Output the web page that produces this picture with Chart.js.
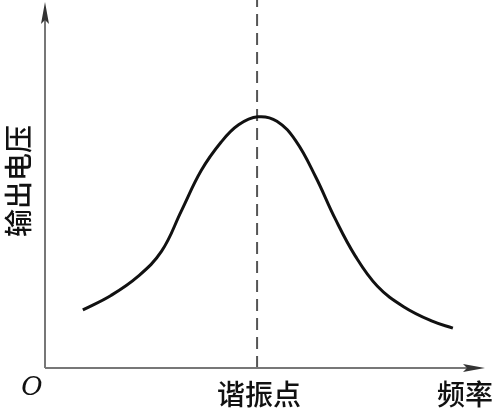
<!DOCTYPE html>
<html>
<head>
<meta charset="utf-8">
<script src="https://cdn.jsdelivr.net/npm/chart.js@4/dist/chart.umd.min.js"></script>
<style>
  html, body { margin: 0; padding: 0; background: #fff; }
  #wrap { width: 493px; height: 410px; }
</style>
</head>
<body>
<div id="wrap"><canvas id="resChart" width="493" height="410"></canvas></div>
<script>
// 频率 (任意单位) / 输出电压 (任意单位)
const freq = [8.6, 15.0, 21.0, 26.5, 31.0, 35.5, 40.0, 44.0, 48.4, 52.7, 57.0, 61.5, 66.0, 70.5, 75.5, 81.5, 88.0, 92.7];
const voltage = [16.0, 20.0, 25.1, 32.2, 43.3, 54.4, 62.2, 67.0, 69.2, 68.0, 62.6, 52.7, 41.0, 30.9, 22.6, 16.9, 12.9, 11.0];
const resonance = 48.2;
const xLabels = ['谐振点', '频率'];
const yLabel = '输出电压';

const xMax = 100;
const yMax = 101.4;

const curve = freq.map((f, i) => ({ x: f, y: voltage[i] }));
const dashLine = [{ x: resonance, y: 0 }, { x: resonance, y: yMax }];

// 坐标轴, 箭头, 文字
const axisPlugin = {
  id: 'axisPlugin',
  afterDraw(chart) {
    const { ctx, chartArea } = chart;
    const xs = chart.scales.x;
    const left = chartArea.left, bottom = chartArea.bottom;
    ctx.save();
    ctx.strokeStyle = '#777';
    ctx.fillStyle = '#333';
    ctx.lineWidth = 2;
    ctx.beginPath();
    ctx.moveTo(left, bottom);
    ctx.lineTo(left, 10);
    ctx.moveTo(left, bottom);
    ctx.lineTo(chartArea.right - 6, bottom);
    ctx.stroke();
    // y arrow
    ctx.beginPath();
    ctx.moveTo(left, 2);
    ctx.lineTo(left - 4, 24);
    ctx.lineTo(left, 20);
    ctx.lineTo(left + 4, 24);
    ctx.closePath();
    ctx.fill();
    // x arrow
    const r = chartArea.right;
    ctx.beginPath();
    ctx.moveTo(r, bottom);
    ctx.lineTo(r - 22, bottom - 4);
    ctx.lineTo(r - 18, bottom);
    ctx.lineTo(r - 22, bottom + 4);
    ctx.closePath();
    ctx.fill();

    ctx.fillStyle = '#111';
    ctx.font = '500 28px "Noto Sans CJK SC"';
    ctx.textBaseline = 'middle';
    ctx.textAlign = 'center';
    ctx.fillText(xLabels[0], xs.getPixelForValue(resonance) + 2, 394);
    ctx.textAlign = 'right';
    ctx.fillText(xLabels[1], 493, 394);

    ctx.save();
    ctx.translate(18, 181);
    ctx.rotate(-Math.PI / 2);
    ctx.textAlign = 'center';
    ctx.fillText(yLabel, 0, 0);
    ctx.restore();

    ctx.font = 'italic 26px "DejaVu Serif"';
    ctx.textAlign = 'center';
    ctx.fillText('O', 32, 388);
    ctx.restore();
  }
};

new Chart(document.getElementById('resChart'), {
  type: 'scatter',
  data: {
    datasets: [
      {
        data: curve,
        showLine: true,
        borderColor: '#111',
        borderWidth: 3,
        pointRadius: 0,
        tension: 0.4,
        fill: false
      },
      {
        data: dashLine,
        showLine: true,
        borderColor: '#555',
        borderWidth: 2,
        borderDash: [12, 7],
        pointRadius: 0,
        fill: false
      }
    ]
  },
  options: {
    responsive: false,
    animation: false,
    layout: { padding: { left: 45, right: 8, top: 0, bottom: 42 } },
    plugins: { legend: { display: false }, tooltip: { enabled: false } },
    scales: {
      x: { type: 'linear', min: 0, max: xMax, display: false },
      y: { type: 'linear', min: 0, max: yMax, display: false }
    }
  },
  plugins: [axisPlugin]
});
</script>
</body>
</html>
